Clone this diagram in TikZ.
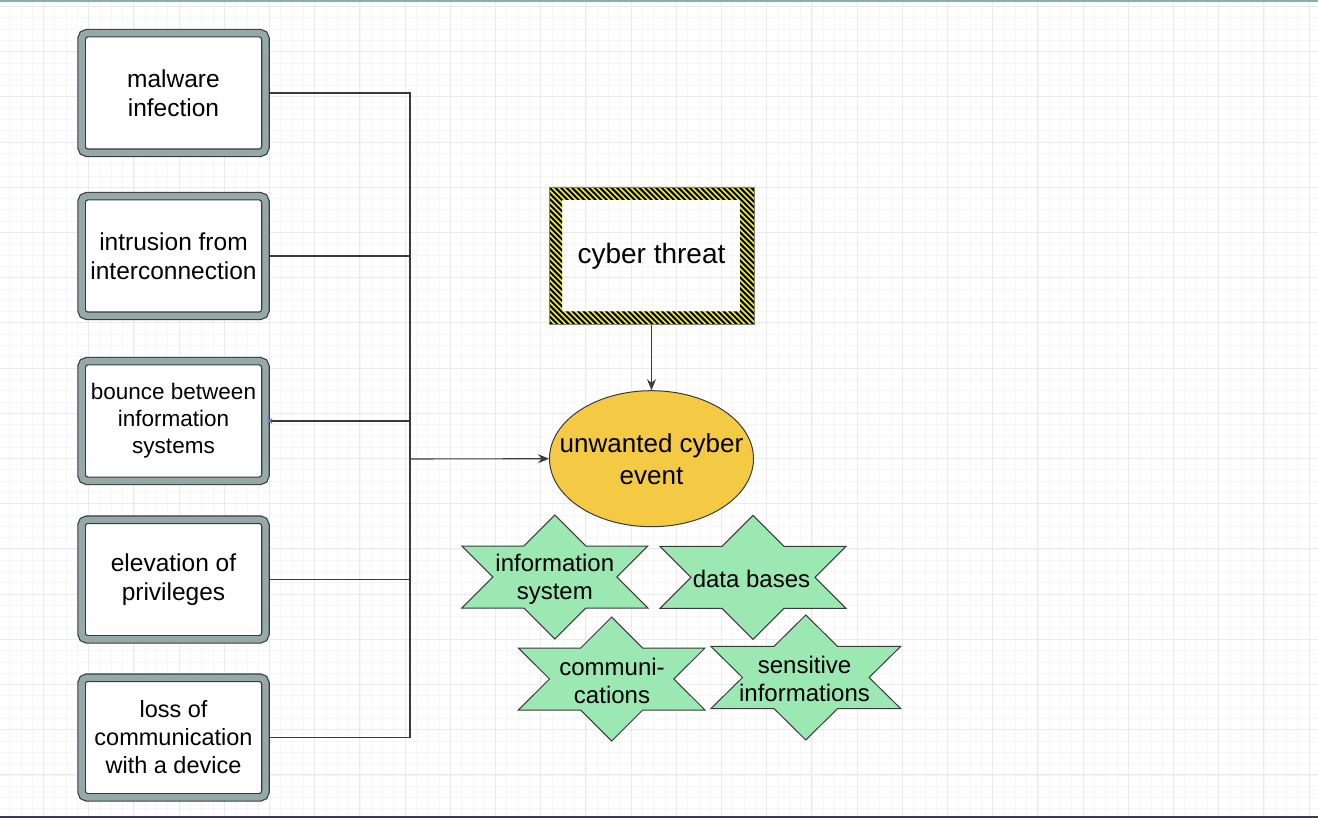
\documentclass[tikz,border=0pt]{standalone}
\usepackage{fontspec}
\setmainfont{Liberation Sans}
\usetikzlibrary{arrows.meta,shapes.geometric}
\definecolor{boxgray}{HTML}{95AAA8}
\definecolor{edgedark}{HTML}{3A3A3A}
\definecolor{ellfill}{HTML}{F4CA45}
\definecolor{starfill}{HTML}{9BE8B2}
\definecolor{hazyellow}{HTML}{F0EE2A}
\definecolor{minorgrid}{HTML}{F6F6F6}
\definecolor{majorgrid}{HTML}{EBEBEB}
\definecolor{topline}{HTML}{86AEB4}
\definecolor{bottomline}{HTML}{3C3C4E}
\definecolor{hovermark}{HTML}{7B7BFF}
\newcommand\myfs[2]{\fontsize{#1}{#2}\selectfont}
\tikzset{
  lbox/.style={rectangle, minimum width=183.8pt, minimum height=119.7pt,
    rounded corners=5.5pt, fill=white, draw=edgedark, double=boxgray,
    double distance=6.3pt, line width=1.2pt, align=center, inner sep=0pt,
    text=black, font=\myfs{24.5}{29}},
  conn/.style={draw=edgedark, line width=1.1pt},
  arr/.style={conn, -{Stealth[length=11pt,width=9pt]}},
  starshape/.style={fill=starfill, draw=edgedark, line width=1pt, line join=miter},
  startext/.style={align=center, inner sep=0pt, text=black, font=\myfs{24}{28}},
}
\begin{document}
\begin{tikzpicture}[x=1pt,y=-1pt]
\useasboundingbox (0,0) rectangle (1318,818);
\fill[white] (0,0) rectangle (1318,818);
% grid
\foreach \i in {0,...,118} {
  \draw[minorgrid, line width=0.8pt] ({-1.7+11.3*\i},0) -- ++(0,818);
}
\foreach \i in {0,...,74} {
  \draw[minorgrid, line width=0.8pt] (0,{-4.8+11.3*\i}) -- ++(1318,0);
}
\foreach \i in {0,...,30} {
  \draw[majorgrid, line width=1pt] ({-1.7+45.2*\i},0) -- ++(0,818);
}
\foreach \i in {0,...,18} {
  \draw[majorgrid, line width=1pt] (0,{6.5+45.2*\i}) -- ++(1318,0);
}
\draw[topline, line width=1.6pt] (0,0.8) -- (1318,0.8);
\fill[bottomline] (0,816.2) rectangle (1318,818);

% left boxes
\node[lbox] (b1) at (173.5,93) {malware\\infection};
\node[lbox] (b2) at (173.5,256) {intrusion from\\interconnection};
\node[lbox, font=\myfs{22.5}{27}] (b3) at (173.5,421) {bounce between\\information\\systems};
\node[lbox] (b4) at (173.5,579.5) {elevation of\\privileges};
\node[lbox, font=\myfs{23.5}{28}] (b5) at (173.5,737.5) {loss of\\communication\\with a device};

% trunk
\coordinate (t1) at (410,93);
\coordinate (t5) at (410,737.5);
\coordinate (tj) at (410,459);
\draw[conn] ([xshift=3.9pt]b1.east) -- (t1) -- (t5) -- ([xshift=3.9pt]b5.east);
\draw[conn] ([xshift=3.9pt]b2.east) -- (b2.east -| t1);
\draw[conn] ([xshift=3.9pt]b3.east) -- (b3.east -| t1);
\draw[conn] ([xshift=3.9pt]b4.east) -- (b4.east -| t1);

% hover marker
\draw[hovermark, line width=0.9pt] (267,418.5) -- (272,423.5) (267,423.5) -- (272,418.5);

% cyber threat hazard box
\begin{scope}[even odd rule]
  \clip (549,187) rectangle (754,324) (562,200) rectangle (740,311.5);
  \fill[hazyellow] (549,187) rectangle (754,324);
  \foreach \i in {0,...,70} {
    \draw[black, line width=2.0pt] ({549-145+5.6*\i},182) -- ++(145,145);
  }
\end{scope}
\draw[gray, line width=0.6pt] (549,187) rectangle (754,324);
\node[rectangle, minimum width=205pt, minimum height=137pt, inner sep=0pt,
      text=black, font=\myfs{28}{33}] (ct) at (651.5,256.5) {cyber threat};

% ellipse
\node[ellipse, minimum width=204pt, minimum height=136pt, inner sep=0pt,
      fill=ellfill, draw=edgedark, line width=1pt] (ev) at (651.5,458.7) {};
\node[align=center, inner sep=0pt, text=black, font=\myfs{26}{32}] (evt) at ([yshift=-1pt]ev.center) {unwanted cyber\\event};

\draw[arr] (ct.south) -- (ev.north);
\draw[arr] (tj) -- (ev.west);

% stars
\coordinate (s1) at (554.8,577);
\coordinate (s2) at (753,577.3);
\coordinate (s3) at (611.7,679);
\coordinate (s4) at (805.8,677.5);
\begin{scope}[shift={(s1)}]
  \draw[starshape] (0,-62) -- (31,-31) -- (93,-31) -- (62,0) -- (93,31) -- (31,31) -- (0,62) -- (-31,31) -- (-93,31) -- (-62,0) -- (-93,-31) -- (-31,-31) -- cycle;
\end{scope}
\begin{scope}[shift={(s2)}]
  \draw[starshape] (0,-62) -- (31,-31) -- (93,-31) -- (62,0) -- (93,31) -- (31,31) -- (0,62) -- (-31,31) -- (-93,31) -- (-62,0) -- (-93,-31) -- (-31,-31) -- cycle;
\end{scope}
\begin{scope}[shift={(s3)}]
  \draw[starshape] (0,-62) -- (31,-31) -- (93.3,-31) -- (62.2,0) -- (93.3,31) -- (31,31) -- (0,62) -- (-31,31) -- (-93.3,31) -- (-62.2,0) -- (-93.3,-31) -- (-31,-31) -- cycle;
\end{scope}
\begin{scope}[shift={(s4)}]
  \draw[starshape] (0,-62.5) -- (31.7,-31.2) -- (95,-31.2) -- (63.3,0) -- (95,31.2) -- (31.7,31.2) -- (0,62.5) -- (-31.7,31.2) -- (-95,31.2) -- (-63.3,0) -- (-95,-31.2) -- (-31.7,-31.2) -- cycle;
\end{scope}
\node[startext] (st1) at (554.8,579) {information\\system};
\node[startext] (st2) at (751.5,578.5) {data bases};
\node[startext] (st3) at (612,680.5) {communi-\\cations};
\node[startext] (st4) at (804.5,679) {sensitive\\informations};
\end{tikzpicture}
\end{document}
